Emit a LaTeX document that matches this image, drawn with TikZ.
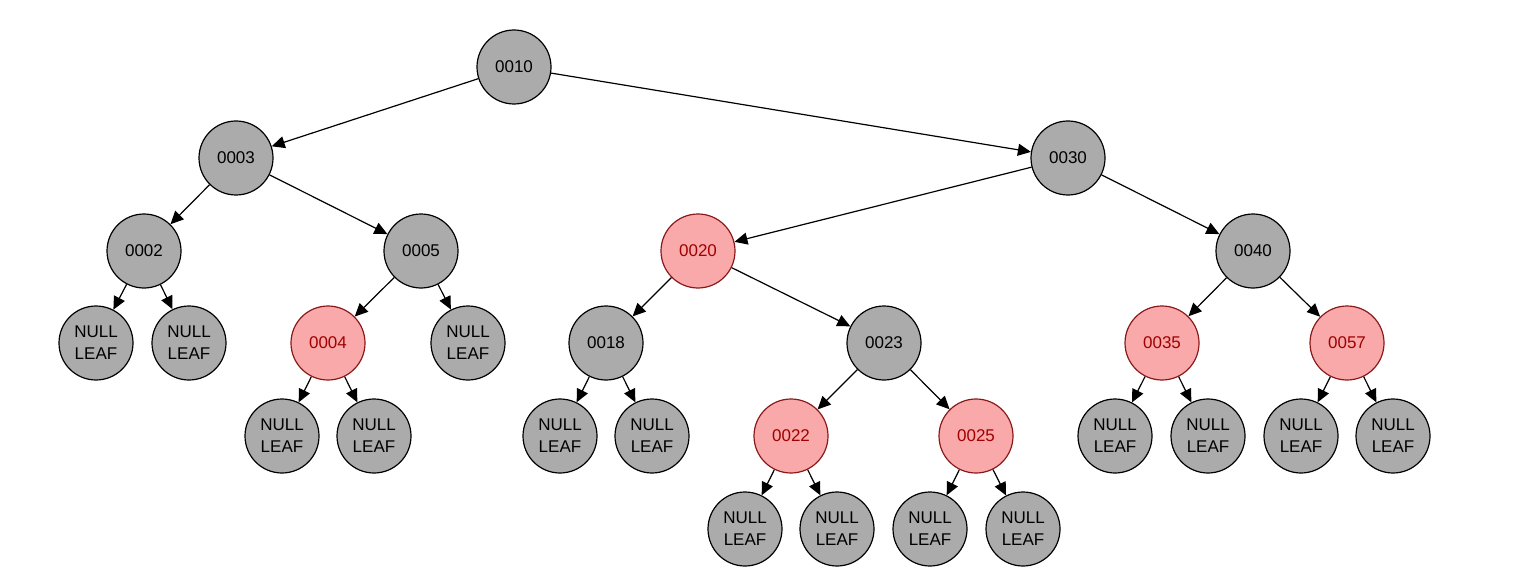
\documentclass[tikz,border=0pt]{standalone}
\usepackage{fontspec}
\setmainfont{Liberation Sans}
\usetikzlibrary{arrows.meta}
\definecolor{nodegray}{HTML}{ABABAB}
\definecolor{nodered}{HTML}{F9A9A9}
\definecolor{redborder}{HTML}{8A1A1A}
\definecolor{redtext}{HTML}{A00000}
\begin{document}
\begin{tikzpicture}[x=1pt,y=-1pt,
  bnode/.style={circle,draw=black,fill=nodegray,line width=1.2pt,minimum size=74pt,inner sep=0pt,font=\fontsize{17}{22}\selectfont,align=center},
  rnode/.style={bnode,draw=redborder,fill=nodered,text=redtext},
  nleaf/.style={bnode},
  edge/.style={line width=1.2pt,-{Triangle[length=13pt,width=12pt]}}]
\useasboundingbox (0,0) rectangle (1525,588);
\fill[white] (0,0) rectangle (1525,588);
% level 0-2
\node[bnode] (n10) at (514,67) {0010};
\node[bnode] (n3) at (236,158) {0003};
\node[bnode] (n30) at (1068,158) {0030};
\node[bnode] (n2) at (144,251) {0002};
\node[bnode] (n5) at (421,251) {0005};
\node[rnode] (n20) at (698,251) {0020};
\node[bnode] (n40) at (1253,251) {0040};
% level 3
\node[nleaf] (l1) at (96,343) {NULL\\LEAF};
\node[nleaf] (l2) at (189,343) {NULL\\LEAF};
\node[rnode] (n4) at (328,343) {0004};
\node[nleaf] (l3) at (468,343) {NULL\\LEAF};
\node[bnode] (n18) at (606,343) {0018};
\node[bnode] (n23) at (884,343) {0023};
\node[rnode] (n35) at (1162,343) {0035};
\node[rnode] (n57) at (1347,343) {0057};
% level 4
\node[nleaf] (l4) at (282,436) {NULL\\LEAF};
\node[nleaf] (l5) at (374,436) {NULL\\LEAF};
\node[nleaf] (l6) at (560,436) {NULL\\LEAF};
\node[nleaf] (l7) at (652,436) {NULL\\LEAF};
\node[rnode] (n22) at (791,436) {0022};
\node[rnode] (n25) at (976,436) {0025};
\node[nleaf] (l8) at (1115,436) {NULL\\LEAF};
\node[nleaf] (l9) at (1208,436) {NULL\\LEAF};
\node[nleaf] (l10) at (1301,436) {NULL\\LEAF};
\node[nleaf] (l11) at (1393,436) {NULL\\LEAF};
% level 5
\node[nleaf] (l12) at (745,529) {NULL\\LEAF};
\node[nleaf] (l13) at (837,529) {NULL\\LEAF};
\node[nleaf] (l14) at (930,529) {NULL\\LEAF};
\node[nleaf] (l15) at (1023,529) {NULL\\LEAF};
% edges
\draw[edge] (n10) -- (n3);
\draw[edge] (n10) -- (n30);
\draw[edge] (n3) -- (n2);
\draw[edge] (n3) -- (n5);
\draw[edge] (n30) -- (n20);
\draw[edge] (n30) -- (n40);
\draw[edge] (n2) -- (l1);
\draw[edge] (n2) -- (l2);
\draw[edge] (n5) -- (n4);
\draw[edge] (n5) -- (l3);
\draw[edge] (n20) -- (n18);
\draw[edge] (n20) -- (n23);
\draw[edge] (n40) -- (n35);
\draw[edge] (n40) -- (n57);
\draw[edge] (n4) -- (l4);
\draw[edge] (n4) -- (l5);
\draw[edge] (n18) -- (l6);
\draw[edge] (n18) -- (l7);
\draw[edge] (n23) -- (n22);
\draw[edge] (n23) -- (n25);
\draw[edge] (n35) -- (l8);
\draw[edge] (n35) -- (l9);
\draw[edge] (n57) -- (l10);
\draw[edge] (n57) -- (l11);
\draw[edge] (n22) -- (l12);
\draw[edge] (n22) -- (l13);
\draw[edge] (n25) -- (l14);
\draw[edge] (n25) -- (l15);
\end{tikzpicture}
\end{document}
